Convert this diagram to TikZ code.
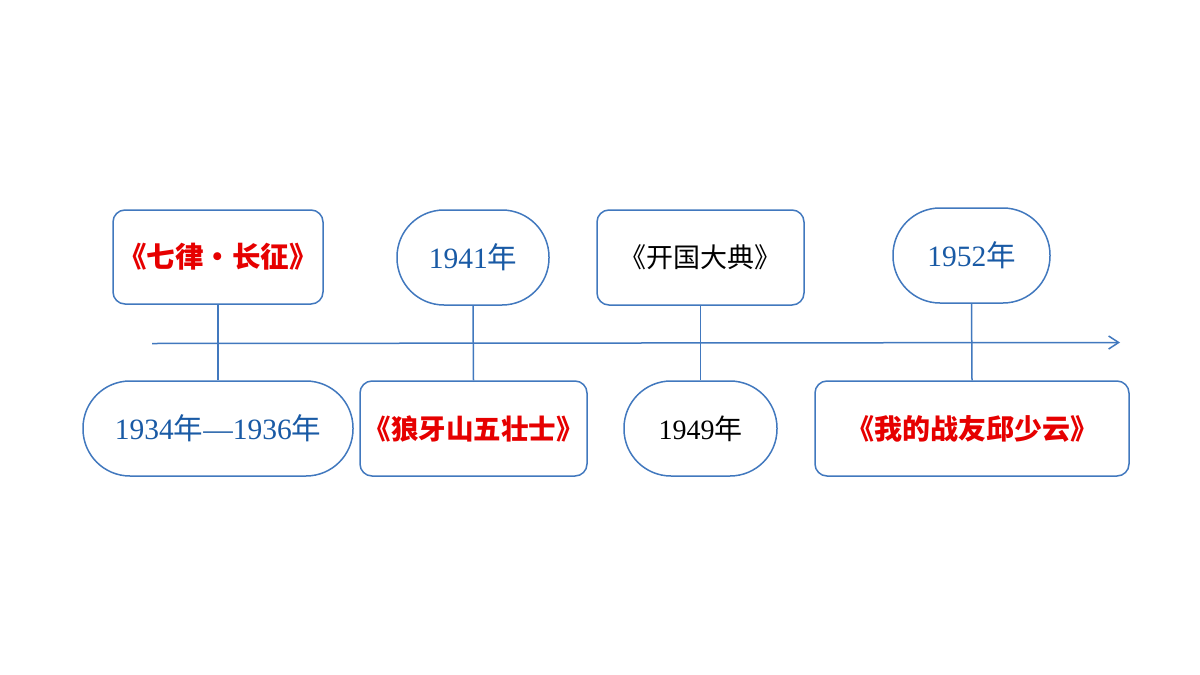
\documentclass[tikz,border=0pt]{standalone}
\usepackage{fontspec}
\setmainfont{Liberation Serif}
\newfontfamily\cjk{Noto Sans CJK SC}
\usetikzlibrary{arrows.meta}
\definecolor{edge}{RGB}{65,120,190}
\definecolor{tblue}{RGB}{25,90,165}
\definecolor{tred}{RGB}{230,0,0}
\tikzset{
  box/.style={draw=edge, line width=1.5pt, fill=white, rounded corners=12pt, inner sep=0pt},
  pill/.style={draw=edge, line width=1.5pt, fill=white, rounded corners=47pt, inner sep=0pt},
  link/.style={draw=edge, line width=1.5pt},
  redt/.style={text=tred, font=\cjk\bfseries\fontsize{28.5}{32}\selectfont},
  bluet/.style={text=tblue, font=\fontsize{29.5}{33}\selectfont},
  blackt/.style={text=black, font=\fontsize{28}{32}\selectfont},
}
\begin{document}
\begin{tikzpicture}[x=1pt,y=-1pt]
\useasboundingbox (0,0) rectangle (1200,675);
\fill[white] (0,0) rectangle (1200,675);
% axis
\coordinate (axs) at (152,343.5);
\coordinate (axe) at (1120,342.5);
\draw[link, -{Straight Barb[length=10pt,width=13pt,line width=1.5pt]}] (axs) -- (axe);
% top row
\node[box, redt, minimum width=210pt, minimum height=94pt] (t1) at (218,257) {《七律·长征》};
\node[pill, bluet, minimum width=152pt, minimum height=95pt] (t2) at (473,257.5) {1941{\cjk 年}};
\node[box, blackt, minimum width=207pt, minimum height=95pt] (t3) at (700.5,257.5) {\cjk\fontsize{27}{30}\selectfont 《开国大典》};
\node[pill, bluet, minimum width=157pt, minimum height=95pt] (t4) at (971.5,255.5) {1952{\cjk 年}};
% bottom row
\node[pill, bluet, minimum width=270pt, minimum height=95pt] (b1) at (218,428.5) {1934{\cjk 年}—1936{\cjk 年}};
\node[box, redt, font=\cjk\bfseries\fontsize{27.5}{32}\selectfont, minimum width=227pt, minimum height=95pt] (b2) at (473.5,428.5) {《狼牙山五壮士》};
\node[pill, blackt, minimum width=153pt, minimum height=95pt] (b3) at (700.5,428.5) {1949{\cjk 年}};
\node[box, redt, font=\cjk\bfseries\fontsize{28}{32}\selectfont, minimum width=314pt, minimum height=95pt] (b4) at (972,428.5) {《我的战友邱少云》};
% connectors
\draw[link] (t1.south) -- (b1.north);
\draw[link] (t2.south) -- (b2.north);
\draw[link] (t3.south) -- (b3.north);
\draw[link] (t4.south) -- (b4.north);
\end{tikzpicture}
\end{document}
